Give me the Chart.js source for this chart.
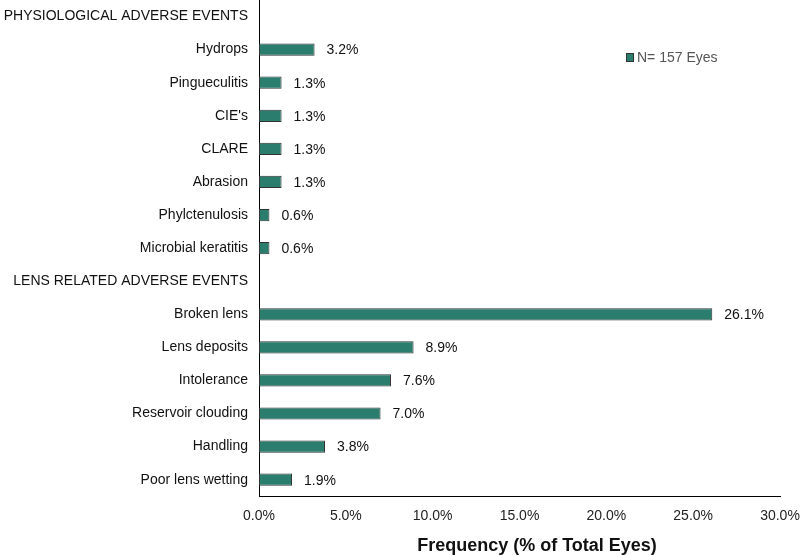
<!DOCTYPE html>
<html>
<head>
<meta charset="utf-8">
<script src="https://cdn.jsdelivr.net/npm/chart.js@4.4.0/dist/chart.umd.min.js"></script>
<style>
  html, body { margin: 0; padding: 0; background: #fff; }
  #wrap { width: 800px; height: 555px; }
</style>
</head>
<body>
<div id="wrap"><canvas id="events-chart" width="800" height="555"></canvas></div>
<script>
// Données
const categories = [
    'PHYSIOLOGICAL ADVERSE EVENTS', 'Hydrops', 'Pingueculitis', "CIE's", 'CLARE',
    'Abrasion', 'Phylctenulosis', 'Microbial keratitis',
    'LENS RELATED ADVERSE EVENTS', 'Broken lens', 'Lens deposits', 'Intolerance',
    'Reservoir clouding', 'Handling', 'Poor lens wetting'
];
const frequences = [null, 3.2, 1.3, 1.3, 1.3, 1.3, 0.6, 0.6, null, 26.1, 8.9, 7.6, 7.0, 3.8, 1.9];
const serieLabel = 'N= 157 Eyes';
const xTitle = 'Frequency (% of Total Eyes)';
const xTicks = [0, 5, 10, 15, 20, 25, 30];

const FONT = "'Liberation Sans', Arial, sans-serif";
const barColor = '#2b7d6e';

// étiquettes de valeur à droite des barres
const valueLabels = {
    id: 'valueLabels',
    afterDatasetsDraw(chart) {
        const ctx = chart.ctx;
        const meta = chart.getDatasetMeta(0);
        ctx.save();
        ctx.font = '14px ' + FONT;
        ctx.fillStyle = '#111';
        ctx.textAlign = 'left';
        ctx.textBaseline = 'middle';
        meta.data.forEach(function (bar, i) {
            const v = frequences[i];
            if (v === null) return;
            ctx.fillText(v.toFixed(1) + '%', bar.x + 12, bar.y + 1);
        });
        ctx.restore();
    }
};

// petite légende en haut à droite + titre de l'axe x (décalé comme l'original)
const extras = {
    id: 'extras',
    afterDraw(chart) {
        const ctx = chart.ctx;
        const x = 626, y = 57;
        ctx.save();
        ctx.fillStyle = barColor;
        ctx.strokeStyle = '#333';
        ctx.lineWidth = 1;
        ctx.fillRect(x, y - 4, 7, 8);
        ctx.strokeRect(x + 0.5, y - 3.5, 7, 8);
        ctx.font = '14px ' + FONT;
        ctx.fillStyle = '#555';
        ctx.textBaseline = 'middle';
        ctx.fillText(serieLabel, x + 11, y + 1);

        ctx.font = 'bold 18px ' + FONT;
        ctx.fillStyle = '#111';
        ctx.textAlign = 'center';
        ctx.fillText(xTitle, 537, 546);
        ctx.restore();
    }
};

new Chart(document.getElementById('events-chart'), {
    type: 'bar',
    data: {
        labels: categories,
        datasets: [{
            label: serieLabel,
            data: frequences,
            backgroundColor: barColor,
            borderColor: '#333',
            borderWidth: 1,
            borderSkipped: false,
            barPercentage: 0.37,
            categoryPercentage: 1
        }]
    },
    options: {
        responsive: false,
        animation: false,
        indexAxis: 'y',
        layout: { padding: { top: 0, right: 0, bottom: 0, left: 0 } },
        plugins: {
            legend: { display: false },
            tooltip: { enabled: false }
        },
        scales: {
            x: {
                min: 0,
                max: 30,
                afterBuildTicks(axis) {
                    axis.ticks = xTicks.map(v => ({ value: v }));
                },
                afterFit(axis) { axis.paddingRight = 20; axis.paddingLeft = 0; },
                grid: { display: false, drawTicks: false },
                border: { display: true, color: '#000', width: 1 },
                ticks: {
                    padding: 12,
                    color: '#222',
                    font: { family: FONT, size: 14 },
                    callback: v => Number(v).toFixed(1) + '%'
                },
                title: {
                    // place réservée, le texte est dessiné par le plugin
                    display: true,
                    text: xTitle,
                    color: 'rgba(0,0,0,0)',
                    font: { family: FONT, size: 18, weight: 'bold', lineHeight: 1 },
                    padding: { top: 0, bottom: 0 }
                }
            },
            y: {
                afterFit(axis) {
                    axis.width = 259;
                    axis.paddingTop = 0;
                    axis.paddingBottom = 0;
                },
                grid: { display: false, drawTicks: false },
                border: { display: true, color: '#000', width: 1 },
                ticks: {
                    padding: 11,
                    color: '#111',
                    autoSkip: false,
                    font: { family: FONT, size: 14 }
                }
            }
        }
    },
    plugins: [valueLabels, extras]
});
</script>
</body>
</html>
